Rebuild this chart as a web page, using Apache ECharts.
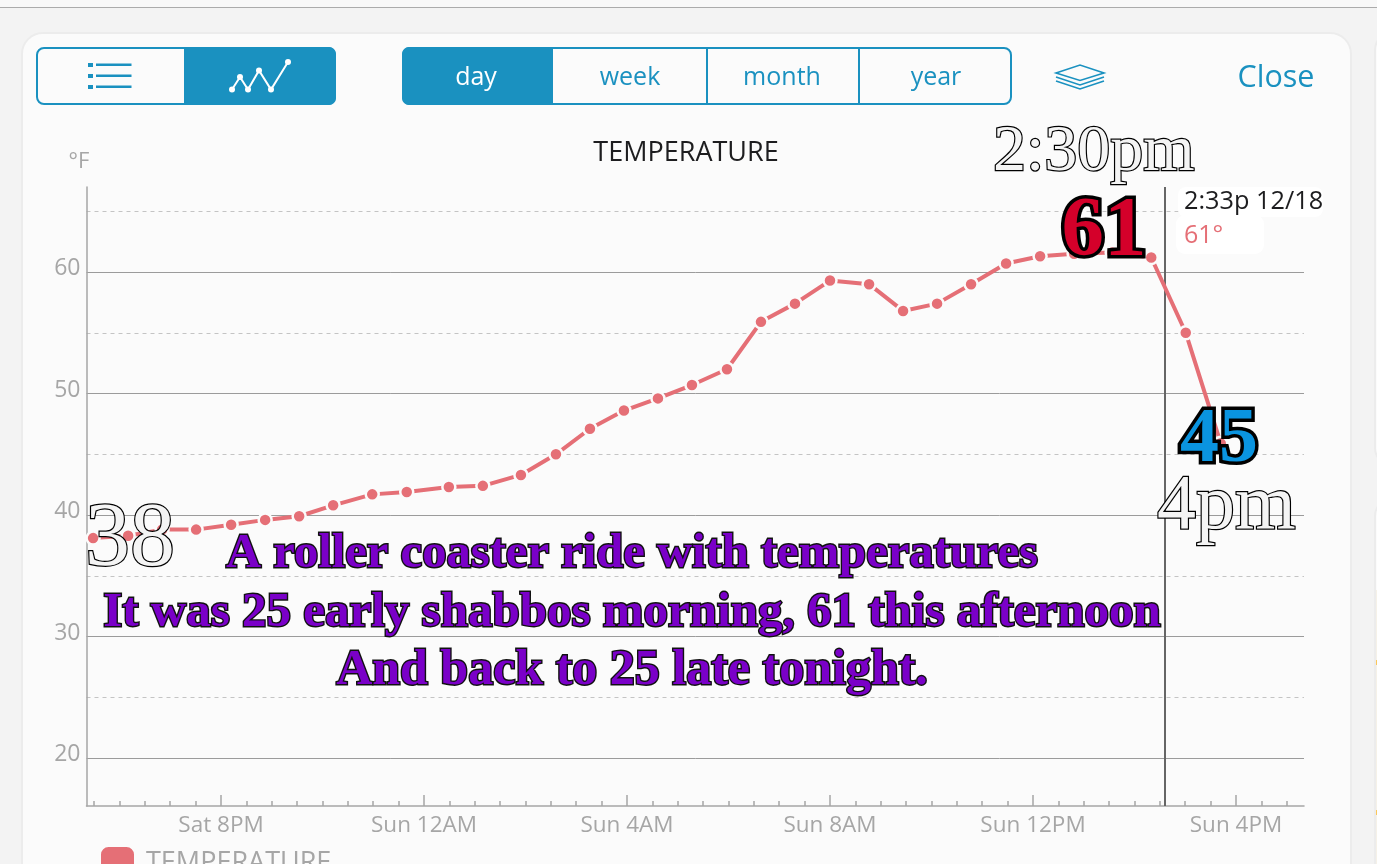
<!DOCTYPE html>
<html><head><meta charset="utf-8">
<style>
html,body{margin:0;padding:0;background:#f3f3f3;overflow:hidden}
#c{position:absolute;left:0;top:0;width:1377px;height:864px}
.b{position:absolute;box-sizing:border-box}
</style>
<script src="https://cdn.jsdelivr.net/npm/echarts@6/dist/echarts.min.js"></script>
</head><body>
<div class="b" style="left:0;top:0;width:1377px;height:8px;background:#f8f8f8;border-bottom:1px solid #ababab"></div>
<div class="b" style="left:21px;top:32px;width:1331px;height:900px;background:#fbfbfb;border:2px solid #ececec;border-radius:22px"></div>
<div class="b" style="left:1374px;top:32px;width:40px;height:434px;background:#fbfbfb;border:2px solid #ececec;border-radius:18px"></div>
<div class="b" style="left:1374px;top:498px;width:40px;height:420px;background:#fbfbfb;border:2px solid #ececec;border-radius:18px"></div>
<div class="b" style="left:1376px;top:590px;width:3px;height:274px;background:#f5f1e8"></div>
<div class="b" style="left:1376px;top:660px;width:3px;height:5px;background:#fbc75a"></div>
<div class="b" style="left:1376px;top:810px;width:3px;height:5px;background:#fbc75a"></div>
<div id="c"></div>
<script>
// hours since Saturday 00:00
const hours = [17.48,18.17,18.84,19.51,20.2,20.87,21.54,22.21,22.98,23.66,24.49,25.16,25.91,26.6,27.27,27.94,28.61,29.28,29.97,30.64,31.31,32.0,32.77,33.44,34.11,34.78,35.47,36.14,36.81,37.56,38.33,39.01,39.7];
const temps = [38.1,38.3,38.8,38.8,39.2,39.6,39.9,40.8,41.7,41.9,42.3,42.4,43.3,45.0,47.1,48.6,49.6,50.7,52.0,55.9,57.4,59.3,59.0,56.8,57.4,59.0,60.7,61.3,61.5,61.6,61.2,55.0,45.9];
const majorTicks = [20,24,28,32,36,40];
const majorLabels = ['Sat 8PM','Sun 12AM','Sun 4AM','Sun 8AM','Sun 12PM','Sun 4PM'];
const minorTicks = [17.5,18,18.5,19,19.5,20.5,21,21.5,22,22.5,23,23.5,24.5,25,25.5,26,26.5,27,27.5,28.5,29,29.5,30,30.5,31,31.5,32.5,33,33.5,34,34.5,35,35.5,36.5,37,37.5,38,38.5,39,39.5,40.5,41];
const solidY = [20,30,40,50,60];
const dashedY = [25,35,45,55,65];
const cursorHour = 38.6;

const BLUE='#1a91c0', GRAY='#a6a6a6', LINE='#e56f76', UI='"Open Sans",sans-serif', SERIF='"Liberation Serif",serif';
const X0=86.5,X1=1304,Y0=187,Y1=806;
const xMin=17.35,xMax=41.34,yMin=16.05,yMax=67;

function txt(x,y,text,font,fill,extra){return {type:'text',x,y,z:50,silent:true,style:Object.assign({text,font,fill,textVerticalAlign:'middle',textAlign:'left'},extra||{})};}
function rect(x,y,w,h,r,fill,stroke,lw,z){return {type:'rect',z:z||2,silent:true,shape:{x,y,width:w,height:h,r},style:{fill:fill||'none',stroke:stroke||null,lineWidth:lw||0}};}
function ln(pts,stroke,lw,z){return {type:'polyline',z:z||5,silent:true,shape:{points:pts},style:{stroke,lineWidth:lw,fill:'none'}};}
const iconPts=[[232,89.5],[240,77],[248,89.5],[259,70.5],[271,89.5],[288,62]];

const gfx=[
 rect(37,48,298,56,7,'#fbfbfb',BLUE,2),
 {type:'rect',z:3,silent:true,shape:{x:184,y:47,width:152,height:58,r:[0,7,7,0]},style:{fill:BLUE}},
 rect(88,63,5,4,0,BLUE),rect(88,74,5,4,0,BLUE),rect(88,85,5,4,0,BLUE),
 rect(96,63.5,35.5,2.5,0,BLUE),rect(96,74.5,35.5,2.5,0,BLUE),rect(96,85.5,35.5,2.5,0,BLUE),
 ln(iconPts,'#fff',2),
 ...iconPts.map(p=>({type:'circle',z:6,silent:true,shape:{cx:p[0],cy:p[1],r:3},style:{fill:'#fff'}})),
 rect(403,48,608,56,7,'#fbfbfb',BLUE,2),
 {type:'rect',z:3,silent:true,shape:{x:402,y:47,width:151,height:58,r:[7,0,0,7]},style:{fill:BLUE}},
 rect(706,48,2,56,0,BLUE,null,0,3),rect(858,48,2,56,0,BLUE,null,0,3),
 txt(476,78,'day','25px '+UI,'#fff',{textAlign:'center'}),
 txt(630,78,'week','25px '+UI,BLUE,{textAlign:'center'}),
 txt(782,78,'month','25px '+UI,BLUE,{textAlign:'center'}),
 txt(936,78,'year','25px '+UI,BLUE,{textAlign:'center'}),
 {type:'polygon',z:5,silent:true,shape:{points:[[1056,73],[1080,65],[1104,73],[1080,80.5]]},style:{stroke:BLUE,lineWidth:1.6,fill:'none'}},
 ln([[1056,77],[1080,85],[1104,77]],BLUE,1.6),
 ln([[1056,81],[1080,89],[1104,81]],BLUE,1.6),
 txt(1276,78,'Close','30.5px '+UI,BLUE,{textAlign:'center'}),
 txt(79,162,'°F','22px '+UI,GRAY,{textAlign:'center'}),
 rect(1178,187,145,30,8,'#ffffff',null,0,11),
 rect(1176,215,88,39,9,'#ffffff',null,0,11),
 txt(1184,202,'2:33p 12/18','25.3px '+UI,'#1d1d1f'),
 txt(1184,236,'61°','25px '+UI,LINE),
 txt(993,153,'2:30pm','66px '+SERIF,'#f4f4f4',{stroke:'#000',lineWidth:2.4}),
 txt(85,541,'38','90px '+SERIF,'#f4f4f4',{stroke:'#000',lineWidth:2.4}),
 txt(1157,508,'4pm','78px '+SERIF,'#f4f4f4',{stroke:'#000',lineWidth:2.4}),
 txt(1104,233,'61','bold 85px '+SERIF,'#d4002a',{stroke:'#000',lineWidth:7,textAlign:'center'}),
 txt(1219,441,'45','bold 78px '+SERIF,'#0a94e0',{stroke:'#000',lineWidth:7,textAlign:'center'}),
 txt(632,554,'A roller coaster ride with temperatures','bold 48.6px '+SERIF,'#7a00c8',{stroke:'#111',lineWidth:2.8,textAlign:'center'}),
 txt(632,613,'It was 25 early shabbos morning, 61 this afternoon','bold 49px '+SERIF,'#7a00c8',{stroke:'#111',lineWidth:2.8,textAlign:'center'}),
 txt(632,671,'And back to 25 late tonight.','bold 50px '+SERIF,'#7a00c8',{stroke:'#111',lineWidth:2.8,textAlign:'center'})
];

const axisLineStyle={show:true,lineStyle:{color:GRAY,width:1.5}};
const option={
 animation:false,
 backgroundColor:'transparent',
 title:{text:'TEMPERATURE',left:681,top:135,textAlign:'center',textStyle:{fontFamily:'"Open Sans",sans-serif',fontSize:27,fontWeight:'normal',color:'#1d1d1f'},z:20},
 legend:{left:99,top:845,itemWidth:35,itemHeight:34,itemGap:10,icon:'roundRect',padding:0,data:['TEMPERATURE'],textStyle:{fontFamily:'"Open Sans",sans-serif',fontSize:27,color:GRAY,padding:[0,0,0,6]}},
 grid:{left:X0,right:1377-X1,top:Y0,bottom:864-Y1,containLabel:false},
 xAxis:[
  {type:'value',min:xMin,max:xMax,position:'bottom',axisLine:axisLineStyle,splitLine:{show:false},
   axisTick:{show:true,inside:true,length:11,lineStyle:{color:GRAY,width:1.5},customValues:majorTicks},
   axisLabel:{show:true,margin:8,fontFamily:'"Open Sans",sans-serif',fontSize:22.5,color:GRAY,customValues:majorTicks,hideOverlap:false,showMinLabel:true,showMaxLabel:true,formatter:v=>majorLabels[majorTicks.indexOf(v)]||''}},
  {type:'value',min:xMin,max:xMax,position:'bottom',axisLine:{show:false},splitLine:{show:false},
   axisTick:{show:true,inside:true,length:5,lineStyle:{color:GRAY,width:1.5},customValues:minorTicks},axisLabel:{show:false}}
 ],
 yAxis:[
  {type:'value',min:yMin,max:yMax,position:'left',axisLine:axisLineStyle,axisTick:{show:false,customValues:solidY},
   splitLine:{show:true,lineStyle:{color:'#9b9b9b',width:1,type:'solid'}},
   axisLabel:{show:true,margin:6,verticalAlign:'bottom',lineHeight:7,fontFamily:'"Open Sans",sans-serif',fontSize:23,color:GRAY,customValues:solidY,formatter:v=>String(v)}},
  {type:'value',min:yMin,max:yMax,position:'left',axisLine:{show:false},axisTick:{show:false,customValues:dashedY},
   splitLine:{show:true,lineStyle:{color:'#c4c4c4',width:1,type:[4,4]}},axisLabel:{show:false}}
 ],
 series:[{
  name:'TEMPERATURE',type:'line',xAxisIndex:0,yAxisIndex:0,data:hours.map((h,i)=>[h,temps[i]]),
  color:LINE,symbol:'circle',symbolSize:13,showSymbol:true,clip:false,
  lineStyle:{color:LINE,width:4},itemStyle:{color:LINE,borderColor:'#fbfbfb',borderWidth:2.5},
  markLine:{silent:true,symbol:'none',label:{show:false},animation:false,lineStyle:{color:'#666',width:2,type:'solid'},data:[{xAxis:cursorHour}]},
  z:8
 }],
 graphic:{elements:gfx}
};
const chart=echarts.init(document.getElementById('c'),null,{renderer:'canvas'});
chart.setOption(option);
</script></body></html>
